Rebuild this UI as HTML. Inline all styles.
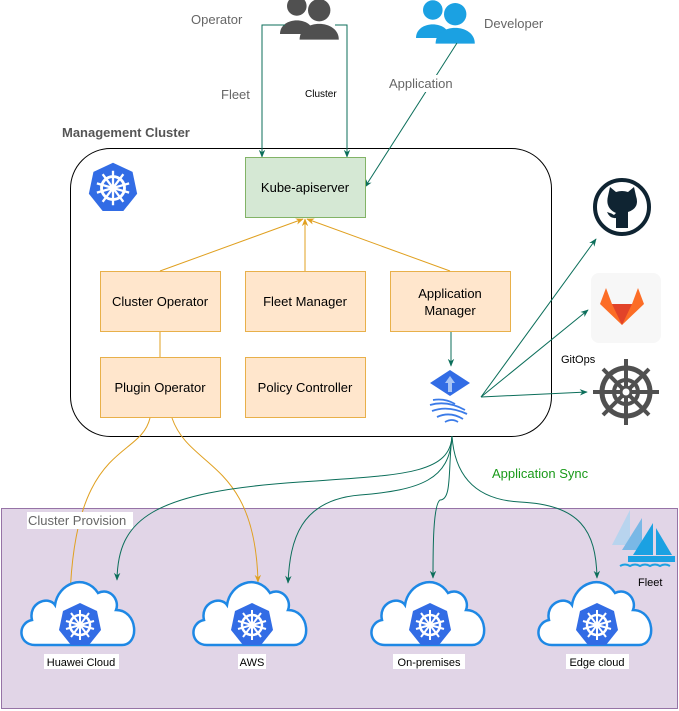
<!DOCTYPE html>
<html><head><meta charset="utf-8"><style>
body{margin:0;background:#fff;}
svg{display:block;font-family:"Liberation Sans",sans-serif;}
</style></head><body>
<svg width="679" height="711" viewBox="0 0 679 711" xmlns="http://www.w3.org/2000/svg">
<defs>
<marker id="ag" viewBox="0 0 10 10" refX="9" refY="5" markerWidth="8" markerHeight="8" orient="auto"><path d="M0,1 L10,5 L0,9 L3,5z" fill="#0b6e5a"/></marker>
<marker id="ao" viewBox="0 0 10 10" refX="9" refY="5" markerWidth="8" markerHeight="8" orient="auto"><path d="M0,1 L10,5 L0,9 L3,5z" fill="#e0a020"/></marker>
<g id="k8s">
<polygon points="0,-22 17,-14 21,5 9,20 -9,20 -21,5 -17,-14" fill="#326ce5"/>
<circle r="10" fill="none" stroke="#fff" stroke-width="2.5"/>
<circle r="3" fill="#fff"/>
<g stroke="#fff" stroke-width="2"><line x1="0" y1="-15" x2="0" y2="15"/><line x1="-14" y1="-4" x2="14" y2="4"/><line x1="-14" y1="4" x2="14" y2="-4"/><line x1="-9" y1="-12" x2="9" y2="12"/><line x1="9" y1="-12" x2="-9" y2="12"/></g>
</g>
<g id="cloud">
<path d="M-45,30 C-62,30 -63,8 -48,5 C-52,-12 -32,-20 -25,-10 C-22,-32 5,-42 18,-22 C30,-28 40,-15 36,-5 C58,-5 60,30 42,30 Z" fill="#fff" stroke="#1e88e5" stroke-width="2.5"/>
</g>
<g id="user">
<circle cx="-8" cy="-10" r="7"/><path d="M-20,10 C-20,-3 4,-3 4,10z"/>
<circle cx="8" cy="-7" r="8" /><path d="M-6,14 C-6,-1 22,-1 22,14z"/>
</g>
</defs>

<rect x="1.5" y="508.5" width="676" height="200" fill="#e1d5e7" stroke="#9673a6"/>

<text x="62" y="137" font-size="13" font-weight="bold" fill="#555">Management Cluster</text>
<rect x="70.5" y="148.5" width="481" height="288" rx="40" fill="#fff" stroke="#000"/>
<g transform="translate(113,188) scale(1.15)"><use href="#k8s"/></g>

<g fill="#505050" transform="translate(308,20) scale(1.4)"><use href="#user"/></g>
<g fill="#1ba1e2" transform="translate(444,24) scale(1.4)"><use href="#user"/></g>
<text x="191" y="24" font-size="13" fill="#666">Operator</text>
<text x="484" y="28" font-size="13" fill="#666">Developer</text>

<path d="M285,25 H262 V157" fill="none" stroke="#0b6e5a" marker-end="url(#ag)"/>
<path d="M335,25 H347 V157" fill="none" stroke="#0b6e5a" marker-end="url(#ag)"/>
<rect x="220" y="86" width="36" height="16" fill="#fff"/>
<text x="221" y="99" font-size="13" fill="#666">Fleet</text>
<rect x="304" y="86" width="40" height="14" fill="#fff"/>
<text x="305" y="97" font-size="10" fill="#000">Cluster</text>
<path d="M457,43 L365,187" fill="none" stroke="#0b6e5a" marker-end="url(#ag)"/>
<rect x="388" y="75" width="70" height="17" fill="#fff"/>
<text x="389" y="88" font-size="13" fill="#666">Application</text>

<rect x="245.5" y="157.5" width="120" height="60" fill="#d5e8d4" stroke="#82b366"/>
<text x="305" y="192" font-size="13" text-anchor="middle">Kube-apiserver</text>
<g fill="#ffe6cc" stroke="#e8b04a">
<rect x="100.5" y="271.5" width="120" height="60"/>
<rect x="245.5" y="271.5" width="120" height="60"/>
<rect x="390.5" y="271.5" width="120" height="60"/>
<rect x="100.5" y="357.5" width="120" height="60"/>
<rect x="245.5" y="357.5" width="120" height="60"/>
</g>
<g font-size="13" text-anchor="middle">
<text x="160" y="306">Cluster Operator</text>
<text x="305" y="306">Fleet Manager</text>
<text x="450" y="298">Application</text>
<text x="450" y="315">Manager</text>
<text x="160" y="392">Plugin Operator</text>
<text x="305" y="392">Policy Controller</text>
</g>
<g stroke="#e0a020" fill="none">
<line x1="160" y1="271" x2="303" y2="219" marker-end="url(#ao)"/>
<line x1="305" y1="271" x2="305" y2="219" marker-end="url(#ao)"/>
<line x1="450" y1="271" x2="307" y2="219" marker-end="url(#ao)"/>
<line x1="160" y1="332" x2="160" y2="357"/>
<path d="M150,418 C140,460 75,440 70,598" marker-end="url(#ao)"/>
<path d="M172,418 C190,470 255,460 258,582" marker-end="url(#ao)"/>
</g>
<rect x="27" y="512" width="106" height="17" fill="#fff"/>
<text x="28" y="525" font-size="13" fill="#666">Cluster Provision</text>

<line x1="451" y1="332" x2="451" y2="366" stroke="#0b6e5a" marker-end="url(#ag)"/>
<polygon points="450,370 470,383 450,396 430,383" fill="#326ce5"/>
<path d="M450,376 L455,383 L452,383 L452,392 L448,392 L448,383 L445,383Z" fill="#a8c4f5"/>
<g stroke="#3b7be8" stroke-width="1.8" fill="none">
<path d="M433,400 Q445,398 455,404"/><path d="M430,405 Q447,400 465,410"/><path d="M432,411 Q448,405 467,414"/><path d="M437,417 Q450,411 463,419"/><path d="M445,422 Q452,418 458,422"/>
</g>

<g stroke="#0b6e5a" fill="none">
<line x1="481" y1="397" x2="596" y2="239" marker-end="url(#ag)"/>
<line x1="481" y1="397" x2="588" y2="310" marker-end="url(#ag)"/>
<line x1="481" y1="397" x2="587" y2="392" marker-end="url(#ag)"/>
</g>
<circle cx="622" cy="207" r="27" fill="#fff" stroke="#0f2432" stroke-width="4"/>
<path d="M608,196 L610,187 L616,192 Q622,190 628,192 L634,187 L636,196 Q640,208 628,212 L628,228 L616,228 L616,218 Q610,219 607,212 Q611,213 614,215 L616,213 Q605,208 608,196Z" fill="#0f2432"/>
<rect x="591" y="273" width="70" height="70" rx="8" fill="#f7f7f7"/>
<polygon points="606,288 612,304 632,304 638,288 644,304 622,325 600,304" fill="#fc6d26"/>
<polygon points="612,304 632,304 622,325" fill="#e24329"/>
<text x="561" y="363" font-size="11">GitOps</text>
<g transform="translate(626,392)" stroke="#505050" fill="none">
<circle r="24" stroke-width="5"/><circle r="12" stroke-width="4"/>
<g stroke-width="4"><line x1="0" y1="-33" x2="0" y2="33"/><line x1="-33" y1="0" x2="33" y2="0"/><line x1="-23" y1="-23" x2="23" y2="23"/><line x1="23" y1="-23" x2="-23" y2="23"/></g>
<circle r="5" fill="#fff" stroke-width="3"/>
</g>

<text x="492" y="478" font-size="13" fill="#1a9a1a">Application Sync</text>

<g stroke="#0b6e5a" fill="none">
<path d="M452,436 C450,475 400,475 300,482 C150,492 118,520 117,580" marker-end="url(#ag)"/>
<path d="M452,436 C450,480 420,490 360,495 C300,500 290,540 288,583" marker-end="url(#ag)"/>
<path d="M452,436 C448,470 452,500 440,500 C433,505 433,550 433,578" marker-end="url(#ag)"/>
<path d="M452,436 C455,480 480,500 520,502 C580,505 596,530 597,578" marker-end="url(#ag)"/>
</g>

<g><use href="#cloud" x="80" y="615"/><use href="#k8s" x="80" y="625"/></g>
<g><use href="#cloud" x="252" y="615"/><use href="#k8s" x="252" y="625"/></g>
<g><use href="#cloud" x="430" y="615"/><use href="#k8s" x="430" y="625"/></g>
<g><use href="#cloud" x="597" y="615"/><use href="#k8s" x="597" y="625"/></g>
<g font-size="11" text-anchor="middle">
<rect x="44" y="654" width="75" height="15" fill="#fff"/><text x="81" y="666">Huawei Cloud</text>
<rect x="238" y="654" width="28" height="15" fill="#fff"/><text x="252" y="666">AWS</text>
<rect x="393" y="654" width="72" height="15" fill="#fff"/><text x="429" y="666">On-premises</text>
<rect x="566" y="654" width="63" height="15" fill="#fff"/><text x="597" y="666">Edge cloud</text>
</g>

<g>
<polygon points="630,510 630,545 612,545" fill="#b8d4ee"/>
<polygon points="642,518 642,550 622,550" fill="#7ab8e6"/>
<polygon points="653,523 653,555 633,555" fill="#1ba1e2"/>
<polygon points="656,528 672,555 656,555" fill="#1ba1e2"/>
<rect x="628" y="556" width="47" height="6" fill="#1ba1e2"/>
<path d="M620,566 q5,-3 10,0 q5,-3 10,0 q5,-3 10,0 q5,-3 10,0 q5,-3 10,0" stroke="#1ba1e2" stroke-width="2" fill="none"/>
</g>
<text x="638" y="586" font-size="11">Fleet</text>
</svg>
</body></html>
